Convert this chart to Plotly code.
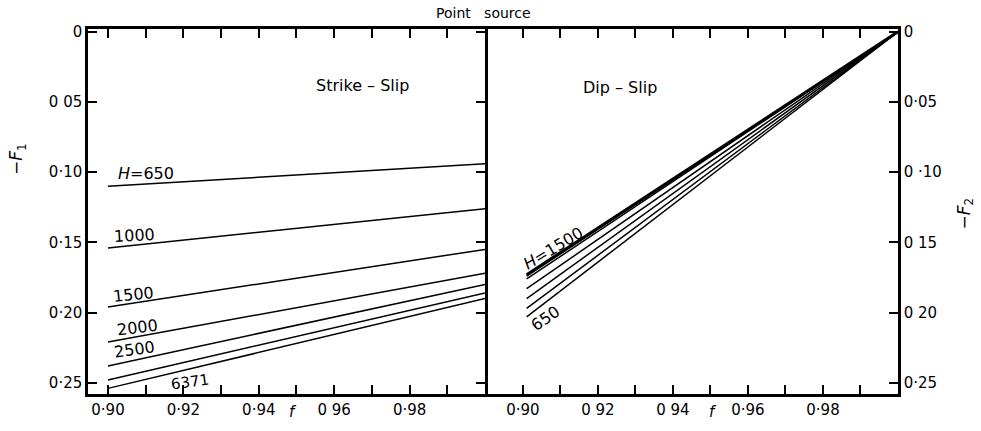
import plotly.graph_objects as go

# ---- data ----
f_ends = [0.90, 1.00]
ss_labels = ["<i>H</i>=650", "1000", "1500", "2000", "2500", "", "6371"]
ss_start = [0.110, 0.154, 0.196, 0.221, 0.238, 0.248, 0.254]
ss_end = [0.094, 0.126, 0.155, 0.172, 0.180, 0.186, 0.190]

ds_f = [0.901, 1.00]
ds_start = [0.173, 0.174, 0.176, 0.183, 0.190, 0.197, 0.203]
ds_end = [0.0, 0.0, 0.0, 0.0, 0.0, 0.0, 0.0]

x_ticks = [0.90, 0.92, 0.94, 0.96, 0.98]
x_ticktext = ["0·90", "0·92", "0·94", "0 96", "0·98"]
x_ticktext2 = ["0·90", "0 92", "0 94", "0·96", "0·98"]
y_ticks = [0, 0.05, 0.10, 0.15, 0.20, 0.25]
y_ticktext = ["0", "0 05", "0·10", "0·15", "0·20", "0·25"]
y_ticktext2 = ["0", "0·05", "0 ·10", "0 15", "0 20", "0·25"]

FONT = "DejaVu Sans"

fig = go.Figure()
for s, e in zip(ss_start, ss_end):
    fig.add_trace(go.Scatter(x=f_ends, y=[s, e], mode="lines",
                             line=dict(color="black", width=1.5),
                             xaxis="x", yaxis="y", showlegend=False))
for i, (s, e) in enumerate(zip(ds_start, ds_end)):
    fig.add_trace(go.Scatter(x=ds_f, y=[s, e], mode="lines",
                             line=dict(color="black", width=3 if i == 0 else 1.5),
                             xaxis="x2", yaxis="y2", showlegend=False))

yr = [0.258, -0.002]
split = 397 / 810
common_x = dict(showline=True, linecolor="black", linewidth=2.5, mirror="ticks",
                ticks="inside", ticklen=9, tickwidth=1.5, tickcolor="black",
                showgrid=False, zeroline=False, tickvals=x_ticks,
                minor=dict(ticks="inside", tick0=0.90, dtick=0.01, ticklen=9,
                           tickwidth=1.5, tickcolor="black", showgrid=False),
                tickfont=dict(family=FONT, size=15, color="black"))
common_y = dict(showline=True, linecolor="black", linewidth=2.5,
                ticks="inside", ticklen=9, tickwidth=1.5, tickcolor="black",
                showgrid=False, zeroline=False, tickvals=y_ticks, range=yr,
                tickfont=dict(family=FONT, size=15, color="black"))

fig.update_layout(
    width=981, height=431,
    margin=dict(l=88, r=83, t=29, b=33),
    plot_bgcolor="white", paper_bgcolor="white",
    xaxis=dict(domain=[0, split], range=[0.8947, 1.0], ticktext=x_ticktext,
               anchor="y", **common_x),
    yaxis=dict(anchor="x", side="left", ticktext=y_ticktext, mirror="ticks", **common_y),
    xaxis2=dict(domain=[split, 1], range=[0.8899, 1.0], ticktext=x_ticktext2,
                anchor="y2", **common_x),
    yaxis2=dict(anchor="x2", side="right", ticktext=y_ticktext2, mirror=False, **common_y),
)

ann = []
lbl_pos = [(0.9101, 0.101, 0), (0.9069, 0.1448, -3), (0.9067, 0.1871, -6),
           (0.9077, 0.2105, -7), (0.907, 0.226, -8), None, (0.9218, 0.2495, -8)]
lbl_size = [16, 16, 16, 16, 16, 16, 15]


def add(x, y, text, xref, yref, size=15, angle=0):
    ann.append(dict(x=x, y=y, xref=xref, yref=yref, text=text, showarrow=False,
                    xanchor="center", yanchor="middle", textangle=angle,
                    font=dict(family=FONT, size=size, color="black")))


for t, p, sz in zip(ss_labels, lbl_pos, lbl_size):
    if p is None or not t:
        continue
    add(p[0], p[1], t, "x", "y", sz, p[2])
add(0.908, 0.154, "<i>H</i>=1500", "x2", "y2", 16, -31)
add(0.9059, 0.204, "650", "x2", "y2", 16, -35)
add(0.9676, 0.038, "Strike – Slip", "x", "y", 16)
add(0.9258, 0.0395, "Dip – Slip", "x2", "y2", 16)
add(0.4877, 1.0435, "Point   source", "paper", "paper", 14)
add(-0.0864, 0.644, "−<i>F</i><sub>1</sub>", "paper", "paper", 17, -90)
add(1.0827, 0.4946, "−<i>F</i><sub>2</sub>", "paper", "paper", 17, -90)
add(0.253, -0.049, "<i>f</i>", "paper", "paper", 15)
add(0.7716, -0.049, "<i>f</i>", "paper", "paper", 15)
fig.update_layout(annotations=ann)

fig.write_html("out.html")
